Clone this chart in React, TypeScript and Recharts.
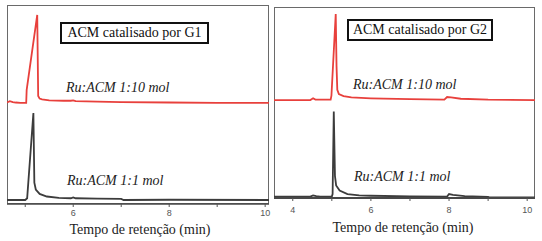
import React from "react";
import { LineChart, Line, XAxis, YAxis } from "recharts";

// retention time (min) and normalised intensity
const G1_10_TIME = [4.62, 4.68, 4.74, 4.8, 4.9, 5.0, 5.02, 5.03, 5.25, 5.27, 5.3, 5.35, 5.5, 5.8, 5.95, 6.0, 6.05, 6.5, 7.0, 8.0, 9.0, 10.08];
const G1_10_SIGNAL = [0.5, 2, 1, 0.5, 0, 0, 0, 15, 100, 8, 5, 4, 3, 2.5, 2.5, 3, 2, 1.5, 1, 0.5, 0.2, 0];

const G1_1_TIME = [4.62, 5.0, 5.04, 5.17, 5.19, 5.22, 5.3, 5.45, 5.7, 5.95, 6.0, 6.05, 6.5, 7.0, 7.05, 8.0, 10.08];
const G1_1_SIGNAL = [0, 0, 2, 100, 20, 12, 7, 4, 2.5, 2, 3, 2, 1.5, 1.2, 0, 0.3, 0];

const G2_10_TIME = [3.52, 4.45, 4.52, 4.58, 4.65, 4.97, 4.99, 5.1, 5.12, 5.14, 5.18, 5.3, 5.5, 6.0, 7.0, 7.88, 7.95, 8.05, 8.3, 9.0, 10.2];
const G2_10_SIGNAL = [0, 0, 2, 0.5, 0.5, 0.5, 5, 100, 40, 12, 7, 4.5, 3, 2, 1, 0.5, 3.5, 3, 1.5, 0.5, 0];

const G2_1_TIME = [3.52, 4.0, 4.45, 4.52, 4.6, 4.7, 5.0, 5.02, 5.05, 5.08, 5.11, 5.2, 5.4, 5.7, 6.0, 7.0, 7.95, 8.0, 8.1, 8.4, 9.0, 9.05, 10.2];
const G2_1_SIGNAL = [1, 1, 1, 2.5, 1.5, 1, 1, 4, 100, 25, 14, 8, 4, 2.5, 2, 1.2, 1, 4, 3, 1.5, 0.8, 0, 0];

const LEFT_TICKS = [5, 6, 7, 8, 9, 10];
const LEFT_LABELS = [6, 8, 10];
const RIGHT_TICKS = [4, 5, 6, 7, 8, 9, 10];
const RIGHT_LABELS = [4, 6, 8, 10];

const TITLES = ["ACM catalisado por G1", "ACM catalisado por G2"];
const SERIES_NAMES = ["Ru:ACM 1:10 mol", "Ru:ACM 1:1 mol"];
const X_TITLE = "Tempo de retenção (min)";

const toPoints = (t: number[], v: number[]) => t.map((x, i) => ({ t: x, v: v[i] }));

const SERIF = "'Liberation Serif', 'Times New Roman', serif";
const RED = "#e8403c";
const DARK = "#3c3c3c";
const FRAME = "#6a6a6a";

type PanelProps = {
  left: number;
  margin: { top: number; left: number; right: number };
  axisHeight: number;
  tickMargin: number;
  axisWidth: number;
  xDomain: [number, number];
  ticks: number[];
  labels: number[];
  red: { t: number; v: number }[];
  black: { t: number; v: number }[];
  redDomain: [number, number];
  blackDomain: [number, number];
};

const Panel = (p: PanelProps) => (
  <div style={{ position: "absolute", left: p.left, top: 0, width: 271, height: 241 }}>
    {/* plot frame */}
    <div
      style={{
        position: "absolute",
        left: p.margin.left,
        top: p.margin.top,
        width: 271 - p.margin.left - p.margin.right,
        height: 241 - p.margin.top - p.axisHeight,
        boxSizing: "border-box",
        border: `1.3px solid ${FRAME}`,
      }}
    />
    <div style={{ position: "absolute", left: 0, top: 0 }}>
      <LineChart width={271} height={241} margin={{ ...p.margin, bottom: 0 }}>
        <XAxis
          dataKey="t"
          type="number"
          domain={p.xDomain}
          allowDataOverflow
          ticks={p.ticks}
          interval={0}
          height={p.axisHeight}
          tickSize={3}
          tickMargin={p.tickMargin}
          tickFormatter={(v: number) => (p.labels.includes(v) ? String(v) : "")}
          tick={{ fontSize: 9, fill: "#555", fontFamily: "'Liberation Sans', Arial, sans-serif" }}
          tickLine={{ stroke: "#555" }}
          axisLine={{ stroke: "#474747", strokeWidth: p.axisWidth }}
        />
        <YAxis yAxisId="r" type="number" domain={p.redDomain} allowDataOverflow hide />
        <YAxis yAxisId="b" type="number" domain={p.blackDomain} allowDataOverflow hide />
        <Line yAxisId="r" data={p.red} dataKey="v" type="linear" stroke={RED} strokeWidth={1.8} dot={false} isAnimationActive={false} />
        <Line yAxisId="b" data={p.black} dataKey="v" type="linear" stroke={DARK} strokeWidth={1.8} dot={false} isAnimationActive={false} />
      </LineChart>
    </div>
  </div>
);

const Box = ({ x, y, w, h, text }: { x: number; y: number; w: number; h: number; text: string }) => (
  <div
    style={{
      position: "absolute",
      left: x,
      top: y,
      width: w,
      height: h,
      boxSizing: "border-box",
      border: "2px solid #111",
      fontFamily: SERIF,
      fontSize: 14,
      lineHeight: `${h - 4}px`,
      textAlign: "center",
      color: "#111",
      whiteSpace: "nowrap",
    }}
  >
    {text}
  </div>
);

// top is chosen so the baseline lands where the reference has it
const Label = ({ x, baseline, text }: { x: number; baseline: number; text: string }) => (
  <div
    style={{
      position: "absolute",
      left: x,
      top: baseline - 12.7,
      fontFamily: SERIF,
      fontStyle: "italic",
      fontSize: 14,
      lineHeight: "16px",
      color: "#222",
      whiteSpace: "nowrap",
    }}
  >
    {text}
  </div>
);

const AxisTitle = ({ cx, baseline }: { cx: number; baseline: number }) => (
  <div
    style={{
      position: "absolute",
      left: cx - 80,
      width: 160,
      top: baseline - 13.7,
      textAlign: "center",
      fontFamily: SERIF,
      fontSize: 14,
      lineHeight: "18px",
      color: "#222",
      whiteSpace: "nowrap",
    }}
  >
    {X_TITLE}
  </div>
);

export default function App() {
  return (
    <div style={{ position: "absolute", left: 0, top: 0, width: 542, height: 241, background: "#fff", overflow: "hidden" }}>
      <Panel
        left={0}
        margin={{ top: 5, left: 7, right: 2 }}
        axisHeight={37}
        tickMargin={3}
        axisWidth={1.6}
        xDomain={[4.62, 10.08]}
        ticks={LEFT_TICKS}
        labels={LEFT_LABELS}
        red={toPoints(G1_10_TIME, G1_10_SIGNAL)}
        black={toPoints(G1_1_TIME, G1_1_SIGNAL)}
        redDomain={[-114.8, 111.3]}
        blackDomain={[-4.6, 224.1]}
      />
      <Panel
        left={271}
        margin={{ top: 7, left: 3, right: 7 }}
        axisHeight={43}
        tickMargin={6}
        axisWidth={2}
        xDomain={[3.52, 10.2]}
        ticks={RIGHT_TICKS}
        labels={RIGHT_LABELS}
        red={toPoints(G2_10_TIME, G2_10_SIGNAL)}
        black={toPoints(G2_1_TIME, G2_1_SIGNAL)}
        redDomain={[-113.9, 108.2]}
        blackDomain={[-0.6, 221.5]}
      />
      <Box x={60} y={22} w={149} h={22} text={TITLES[0]} />
      <Box x={347} y={19} w={146} h={22} text={TITLES[1]} />
      <Label x={66} baseline={92.3} text={SERIES_NAMES[0]} />
      <Label x={67} baseline={186} text={SERIES_NAMES[1]} />
      <Label x={353} baseline={90} text={SERIES_NAMES[0]} />
      <Label x={354} baseline={182} text={SERIES_NAMES[1]} />
      <AxisTitle cx={140} baseline={234.5} />
      <AxisTitle cx={403} baseline={233} />
    </div>
  );
}
